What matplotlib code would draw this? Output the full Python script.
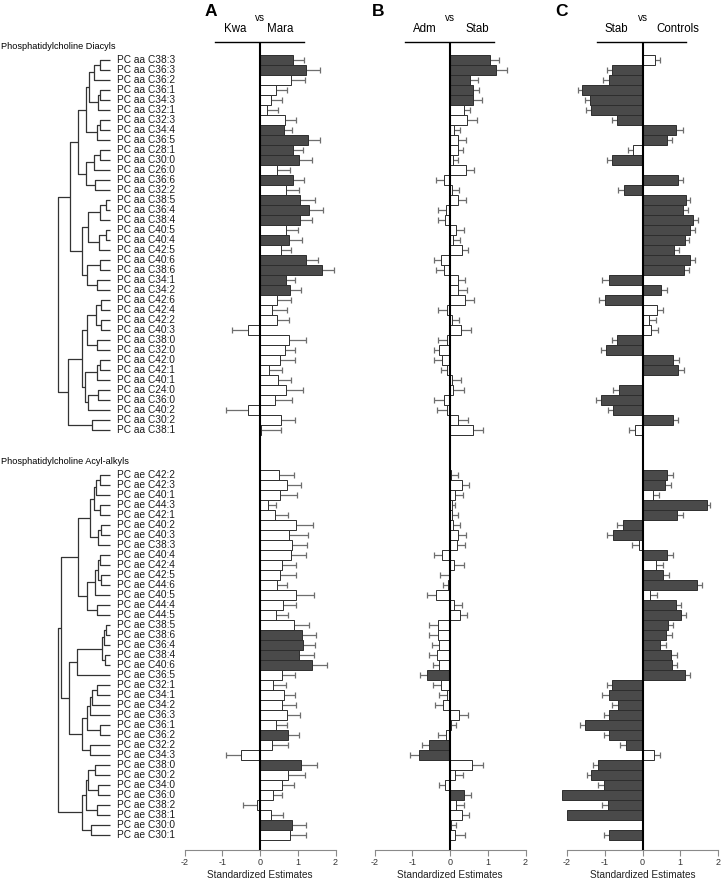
### PC diacyl / acyl-alkyl standardized estimates with dendrogram
import numpy as np
import matplotlib
matplotlib.use('Agg')
import matplotlib.pyplot as plt

plt.rcParams['font.family'] = ['Liberation Sans', 'DejaVu Sans']

### labels (top to bottom)
aa_names = ['C38:3', 'C36:3', 'C36:2', 'C36:1', 'C34:3', 'C32:1', 'C32:3', 'C34:4', 'C36:5', 'C28:1',
            'C30:0', 'C26:0', 'C36:6', 'C32:2', 'C38:5', 'C36:4', 'C38:4', 'C40:5', 'C40:4', 'C42:5',
            'C40:6', 'C38:6', 'C34:1', 'C34:2', 'C42:6', 'C42:4', 'C42:2', 'C40:3', 'C38:0', 'C32:0',
            'C42:0', 'C42:1', 'C40:1', 'C24:0', 'C36:0', 'C40:2', 'C30:2', 'C38:1']
ae_names = ['C42:2', 'C42:3', 'C40:1', 'C44:3', 'C42:1', 'C40:2', 'C40:3', 'C38:3', 'C40:4', 'C42:4',
            'C42:5', 'C44:6', 'C40:5', 'C44:4', 'C44:5', 'C38:5', 'C38:6', 'C36:4', 'C38:4', 'C40:6',
            'C36:5', 'C32:1', 'C34:1', 'C34:2', 'C36:3', 'C36:1', 'C36:2', 'C32:2', 'C34:3', 'C38:0',
            'C30:2', 'C34:0', 'C36:0', 'C38:2', 'C38:1', 'C30:0', 'C30:1']

### dendrograms: (distance, left, right), leaves are row indices
tree_aa = (1.00,
           (0.77,
            (0.62,
             (0.46, (0.40, (0.31, (0.19, 0, 1), 2), (0.23, (0.19, 3, 4), 5)),
              (0.25, (0.19, 6, 7), 8)),
             (0.46, (0.31, (0.19, 9, 10), 11), (0.29, 12, 13))),
            (0.54,
             (0.42, (0.19, (0.08, 14, 15), 16), (0.21, (0.08, 17, 18), 19)),
             (0.44, (0.19, 20, 21), (0.25, 22, 23)))),
           (0.81,
            (0.54,
             (0.44, (0.27, (0.17, 24, 25), (0.17, 26, 27)), (0.25, 28, 29)),
             (0.48, (0.25, (0.19, 30, 31), 32), (0.42, (0.23, 33, 34), 35))),
            (0.35, 36, 37)))
tree_ae = (1.00,
           (0.94,
            (0.62,
             (0.38, (0.31, (0.27, (0.19, 0, 1), 2), (0.19, 3, 4)), (0.23, (0.17, 5, 6), 7)),
             (0.44, (0.29, (0.23, (0.19, 8, 9), (0.17, 10, 11)), 12), (0.25, 13, 14))),
            (0.79,
             (0.63, (0.15, (0.12, (0.08, 15, 16), 17), (0.10, 18, 19)), 20),
             (0.54, (0.44, (0.38, (0.35, (0.25, 21, 22), 23), 24), (0.19, 25, 26)),
              (0.38, 27, 28)))),
           (0.54,
            (0.46, (0.42, (0.29, 29, 30), (0.23, 31, 32)), (0.25, 33, 34)),
            (0.37, 35, 36)))

### panel A: Kwa vs Mara
a_aa_val = [0.87, 1.23, 0.82, 0.42, 0.28, 0.18, 0.65, 0.64, 1.26, 0.87, 1.04, 0.46, 0.87, 0.68, 1.05, 1.29,
            1.05, 0.68, 0.78, 0.55, 1.23, 1.64, 0.68, 0.80, 0.46, 0.33, 0.44, -0.33, 0.78, 0.65, 0.52, 0.25,
            0.47, 0.68, 0.41, -0.33, 0.55, 0.03]
a_aa_err = [0.29, 0.36, 0.38, 0.29, 0.30, 0.31, 0.31, 0.20, 0.32, 0.27, 0.34, 0.34, 0.29, 0.35, 0.41, 0.38,
            0.33, 0.32, 0.32, 0.27, 0.30, 0.31, 0.24, 0.28, 0.36, 0.38, 0.34, 0.41, 0.43, 0.28, 0.40, 0.34,
            0.36, 0.45, 0.43, 0.56, 0.39, 0.52]
a_aa_sig = [0, 1, 7, 8, 9, 10, 12, 14, 15, 16, 18, 20, 21, 22, 23, 37]
a_ae_val = [0.51, 0.72, 0.54, 0.22, 0.39, 0.96, 0.78, 0.84, 0.81, 0.57, 0.52, 0.44, 0.96, 0.60, 0.43, 0.89,
            1.12, 1.13, 1.03, 1.39, 0.58, 0.35, 0.63, 0.57, 0.71, 0.43, 0.74, 0.33, -0.51, 1.08, 0.75, 0.58,
            0.34, -0.07, 0.30, 0.84, 0.80]
a_ae_err = [0.38, 0.36, 0.43, 0.21, 0.34, 0.44, 0.48, 0.41, 0.41, 0.39, 0.44, 0.28, 0.46, 0.36, 0.30, 0.40,
            0.37, 0.32, 0.39, 0.39, 0.36, 0.35, 0.31, 0.38, 0.34, 0.28, 0.30, 0.40, 0.38, 0.43, 0.44, 0.31,
            0.24, 0.39, 0.30, 0.37, 0.42]
a_ae_sig = [16, 17, 18, 19, 26, 29, 35]

### panel B: Adm vs Stab
b_aa_val = [1.07, 1.23, 0.52, 0.60, 0.62, 0.36, 0.44, 0.11, 0.20, 0.22, 0.07, 0.43, -0.16, 0.04, 0.20, -0.11,
            -0.12, 0.16, 0.09, 0.31, -0.24, -0.16, 0.22, 0.22, 0.40, -0.09, 0.04, 0.28, -0.07, -0.28, -0.22,
            -0.07, 0.05, 0.09, -0.16, -0.07, 0.20, 0.60]
b_aa_err = [0.22, 0.27, 0.22, 0.18, 0.22, 0.18, 0.27, 0.16, 0.22, 0.13, 0.15, 0.21, 0.21, 0.20, 0.22, 0.22,
            0.20, 0.20, 0.18, 0.18, 0.18, 0.20, 0.18, 0.22, 0.24, 0.22, 0.20, 0.27, 0.24, 0.15, 0.20, 0.17,
            0.23, 0.27, 0.26, 0.28, 0.29, 0.28]
b_aa_sig = [0, 1, 2, 3, 4]
b_ae_val = [0.03, 0.31, 0.13, 0.04, 0.06, 0.07, 0.20, 0.18, -0.20, 0.11, -0.03, -0.05, -0.38, 0.11, 0.27,
            -0.31, -0.33, -0.28, -0.34, -0.28, -0.62, -0.25, -0.09, -0.18, 0.25, 0.03, -0.11, -0.55, -0.83,
            0.59, 0.14, -0.12, 0.37, 0.16, 0.31, 0.03, 0.13]
b_ae_err = [0.17, 0.20, 0.22, 0.10, 0.16, 0.20, 0.23, 0.22, 0.22, 0.25, 0.23, 0.14, 0.24, 0.20, 0.18, 0.25,
            0.22, 0.20, 0.22, 0.18, 0.18, 0.21, 0.20, 0.22, 0.24, 0.13, 0.20, 0.20, 0.22, 0.28, 0.21, 0.16,
            0.19, 0.22, 0.20, 0.14, 0.26]
b_ae_sig = [11, 20, 27, 28, 32]

### panel C: Stab vs Controls (nan = not shown)
nan = np.nan
c_aa_val = [0.32, -0.80, -0.90, -1.60, -1.39, -1.37, -0.67, 0.90, 0.65, -0.25, -0.81, nan, 0.93, -0.50, 1.14,
            1.08, 1.35, 1.27, 1.12, 0.83, 1.25, 1.09, -0.90, 0.49, -1.00, 0.38, 0.18, 0.22, -0.67, -0.96, 0.80,
            0.95, nan, -0.62, -1.10, -0.78, 0.80, -0.21]
c_aa_err = [0.14, 0.13, 0.14, 0.11, 0.13, 0.13, 0.15, 0.16, 0.14, 0.13, 0.12, nan, 0.15, 0.15, 0.13, 0.12,
            0.12, 0.12, 0.12, 0.13, 0.14, 0.13, 0.16, 0.15, 0.15, 0.17, 0.19, 0.18, 0.15, 0.15, 0.18, 0.16,
            nan, 0.16, 0.13, 0.13, 0.15, 0.14]
c_aa_sig = [1, 2, 3, 4, 5, 6, 7, 8, 10, 12, 13, 14, 15, 16, 17, 18, 19, 20, 21, 22, 23, 24, 28, 29, 30, 31,
            33, 34, 35, 36]
c_ae_val = [0.65, 0.59, 0.27, 1.70, 0.92, -0.51, -0.78, -0.09, 0.64, 0.35, 0.53, 1.45, 0.19, 0.88, 1.01,
            0.67, 0.62, 0.47, 0.76, 0.77, 1.12, -0.80, -0.90, -0.66, -0.88, -1.53, -0.88, -0.44, 0.31, -1.17,
            -1.36, -1.01, -2.12, -0.92, -1.99, nan, -0.88]
c_ae_err = [0.16, 0.16, 0.18, 0.10, 0.14, 0.16, 0.15, 0.18, 0.18, 0.18, 0.18, 0.12, 0.19, 0.15, 0.14, 0.15,
            0.15, 0.15, 0.16, 0.15, 0.15, 0.15, 0.16, 0.15, 0.15, 0.12, 0.15, 0.16, 0.16, 0.14, 0.12, 0.16,
            0.05, 0.16, 0.09, nan, 0.15]
c_ae_sig = [0, 1, 3, 4, 5, 6, 8, 10, 11, 13, 14, 15, 16, 17, 18, 19, 20, 21, 22, 23, 24, 25, 26, 27, 29, 30,
            31, 32, 33, 34, 36]

panel_letters = ['A', 'B', 'C']
group_left = ['Kwa', 'Adm', 'Stab']
group_right = ['Mara', 'Stab', 'Controls']

### layout in pixels
W, H = 722, 883
TOP, BOT = 42, 850
ROW0, DY = 60, 10
AE0 = 475
LEAF_X, TREE_W = 110, 52
panel_x = [(184.5, 335.5), (374.5, 525.5), (567, 718)]

fig = plt.figure(figsize=(W / 100, H / 100), dpi=100)


def rect(x0, y0, x1, y1):
    return [x0 / W, 1 - y1 / H, (x1 - x0) / W, (y1 - y0) / H]


ylim = ((BOT - ROW0) / DY, (TOP - ROW0) / DY)
y_aa = np.arange(len(aa_names))
y_ae = (AE0 - ROW0) / DY + np.arange(len(ae_names))

### dendrogram + labels
axt = fig.add_axes(rect(0, TOP, 184, BOT))
axt.set_xlim(0, 184)
axt.set_ylim(*ylim)
axt.axis('off')


def draw_tree(ax, node, ypos):
    if isinstance(node, int):
        return LEAF_X, ypos[node]
    d, left, right = node
    x = LEAF_X - TREE_W * d
    xl, yl = draw_tree(ax, left, ypos)
    xr, yr = draw_tree(ax, right, ypos)
    ax.plot([xl, x, x, xr], [yl, yl, yr, yr], color='#333333', lw=0.9, solid_capstyle='butt')
    return x, (yl + yr) / 2


draw_tree(axt, tree_aa, y_aa)
draw_tree(axt, tree_ae, y_ae)
for y, n in zip(y_aa, aa_names):
    axt.text(117, y, 'PC aa ' + n, fontsize=7.3, va='center', ha='left', color='#1a1a1a')
for y, n in zip(y_ae, ae_names):
    axt.text(117, y, 'PC ae ' + n, fontsize=7.3, va='center', ha='left', color='#1a1a1a')
axt.text(1, (47 - ROW0) / DY, 'Phosphatidylcholine Diacyls', fontsize=6.6, va='center', ha='left')
axt.text(1, (AE0 - 13 - ROW0) / DY, 'Phosphatidylcholine Acyl-alkyls', fontsize=6.6, va='center', ha='left')

### bar panels
panels = [
    (a_aa_val, a_aa_err, a_aa_sig, a_ae_val, a_ae_err, a_ae_sig),
    (b_aa_val, b_aa_err, b_aa_sig, b_ae_val, b_ae_err, b_ae_sig),
    (c_aa_val, c_aa_err, c_aa_sig, c_ae_val, c_ae_err, c_ae_sig),
]
letter_x = [211, 378, 561]
left_x = [235, 425, 616]
right_x = [280, 477, 678]

for p, (x0, x1) in enumerate(panel_x):
    ax = fig.add_axes(rect(x0, TOP, x1, BOT))
    ax.set_xlim(-2, 2)
    ax.set_ylim(*ylim)
    aa_val, aa_err, aa_sig, ae_val, ae_err, ae_sig = panels[p]
    for ys, vals, errs, sig in [(y_aa, aa_val, aa_err, aa_sig), (y_ae, ae_val, ae_err, ae_sig)]:
        vals = np.array(vals, dtype=float)
        errs = np.array(errs, dtype=float)
        dark = np.zeros(len(vals), dtype=bool)
        dark[sig] = True
        ok = ~np.isnan(vals)
        ys, vals, errs, dark = ys[ok], vals[ok], errs[ok], dark[ok]
        ends = vals + np.sign(vals) * errs
        ax.hlines(ys, vals, ends, color='#6e6e6e', lw=0.9, zorder=1)
        ax.vlines(ends, ys - 0.27, ys + 0.27, color='#6e6e6e', lw=0.9, zorder=1)
        colors = np.where(dark, '#4a4a4a', 'white')
        ax.barh(ys, vals, height=1.0, color=colors, edgecolor='#2e2e2e', linewidth=0.7,
                zorder=2, clip_on=False)
    ax.axvline(0, color='black', lw=1.5, zorder=3)
    ax.plot([-1.2, 1.16], [ylim[1], ylim[1]], color='black', lw=1.0, clip_on=False)
    for s in ['top', 'right', 'left']:
        ax.spines[s].set_visible(False)
    ax.spines['bottom'].set_color('#8a8a8a')
    ax.spines['bottom'].set_linewidth(0.8)
    ax.set_yticks([])
    ax.set_xticks([-2, -1, 0, 1, 2])
    ax.set_xticklabels(['-2', '-1', '0', '1', '2'])
    ax.tick_params(axis='x', length=4, width=0.8, color='#8a8a8a', labelsize=6.5,
                   labelcolor='#333333', pad=2)
    ax.set_xlabel('Standardized Estimates', fontsize=7.2, labelpad=2, color='#222222')

    ### header
    fig.text(letter_x[p] / W, 1 - 12 / H, panel_letters[p], fontsize=12.5, fontweight='bold',
             ha='center', va='center')
    zx = (x0 + x1) / 2
    fig.text(zx / W, 1 - 18 / H, 'vs', fontsize=7.2, ha='center', va='center')
    fig.text(left_x[p] / W, 1 - 29 / H, group_left[p], fontsize=8.3, ha='center', va='center')
    fig.text(right_x[p] / W, 1 - 29 / H, group_right[p], fontsize=8.3, ha='center', va='center')

fig.savefig('out.png', dpi=100)
